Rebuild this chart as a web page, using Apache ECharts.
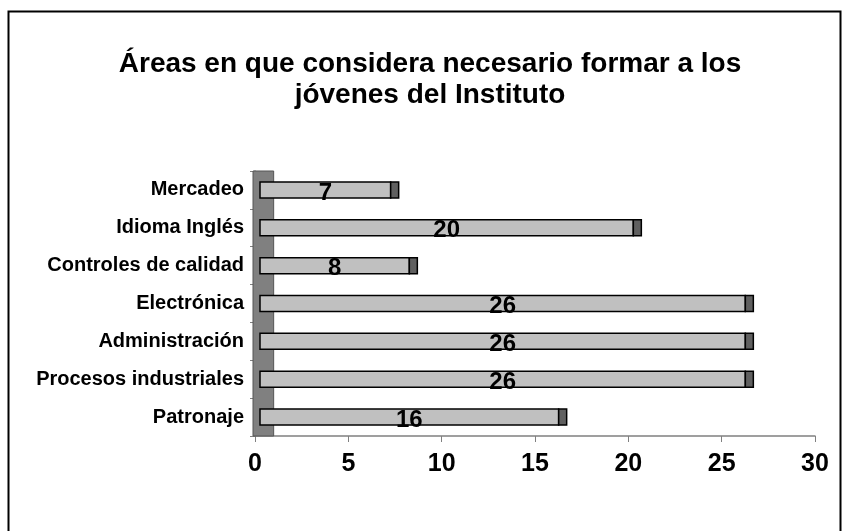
<!DOCTYPE html>
<html>
<head>
<meta charset="utf-8">
<script src="https://cdn.jsdelivr.net/npm/echarts@6/dist/echarts.min.js"></script>
<style>
  html, body { margin: 0; padding: 0; background: #fff; }
  #chart { width: 844px; height: 531px; }
</style>
</head>
<body>
<div id="chart"></div>
<script>
// categories from bottom to top, as the y axis draws them
var categories = ["Patronaje", "Procesos industriales", "Administración", "Electrónica", "Controles de calidad", "Idioma Inglés", "Mercadeo"];
var values = [16, 26, 26, 26, 8, 20, 7];
var xTicks = [0, 5, 10, 15, 20, 25, 30];

var fontFamily = "Liberation Sans, Arial, sans-serif";

// front face of each bar plus the dark depth cap at its end
function renderBar(params, api) {
  var v = api.value(0);
  var cat = api.value(1);
  var p0 = api.coord([0, cat]);
  var p1 = api.coord([v, cat]);
  var h = 16;
  var x0 = p0[0] + 5;
  var x1 = p1[0] + 5;
  var y = p0[1] - h / 2;
  return {
    type: "group",
    children: [
      {
        type: "rect",
        shape: { x: x0, y: y, width: x1 - x0, height: h },
        style: { fill: "#c0c0c0", stroke: "#000", lineWidth: 1.5 }
      },
      {
        type: "rect",
        shape: { x: x1, y: y, width: 8, height: h },
        style: { fill: "#606060", stroke: "#000", lineWidth: 1.5 }
      },
      {
        type: "text",
        x: (x0 + x1) / 2,
        y: p0[1] + 3,
        style: {
          text: String(v),
          fill: "#000",
          font: "bold 24px " + fontFamily,
          align: "center",
          verticalAlign: "middle"
        }
      }
    ]
  };
}

// grey side wall of the 3d plot area
function renderWall(params, api) {
  var cs = params.coordSys;
  var a = api.coord([0, 0]);
  var b = api.coord([api.value(0), 0]);
  return {
    type: "rect",
    shape: { x: a[0] - 2, y: cs.y, width: b[0] - a[0] + 2, height: cs.height },
    style: { fill: "#808080", stroke: "#555", lineWidth: 1 }
  };
}

var chart = echarts.init(document.getElementById("chart"));
chart.setOption({
  animation: false,
  backgroundColor: "#fff",
  graphic: [
    {
      type: "rect",
      left: 6,
      top: 9,
      shape: { width: 832, height: 540 },
      style: { fill: "none", stroke: "#000", lineWidth: 2 },
      silent: true
    }
  ],
  title: {
    text: "Áreas en que considera necesario formar a los\njóvenes del Instituto",
    left: 425,
    top: 44,
    textAlign: "center",
    textStyle: {
      fontFamily: fontFamily,
      fontWeight: "bold",
      fontSize: 28,
      lineHeight: 31,
      color: "#000"
    }
  },
  grid: {
    left: 255,
    right: 29,
    top: 171,
    bottom: 95
  },
  xAxis: {
    type: "value",
    min: xTicks[0],
    max: xTicks[xTicks.length - 1],
    interval: xTicks[1] - xTicks[0],
    axisLine: { show: true, lineStyle: { color: "#808080", width: 1.5 } },
    axisTick: { show: true, length: 6, lineStyle: { color: "#808080" } },
    splitLine: { show: false },
    axisLabel: {
      margin: 16,
      color: "#000",
      fontFamily: fontFamily,
      fontWeight: "bold",
      fontSize: 25
    }
  },
  yAxis: {
    type: "category",
    data: categories,
    axisLine: { show: true, lineStyle: { color: "#808080", width: 1.5 } },
    axisTick: { show: true, length: 5, lineStyle: { color: "#808080" } },
    axisLabel: {
      margin: 11,
      color: "#000",
      fontFamily: fontFamily,
      fontWeight: "bold",
      fontSize: 20
    }
  },
  series: [
    {
      type: "custom",
      renderItem: renderWall,
      data: [[1]],
      encode: { x: 0 },
      z: 1,
      silent: true
    },
    {
      type: "custom",
      renderItem: renderBar,
      data: values.map(function (v, i) { return [v, i]; }),
      encode: { x: 0, y: 1 },
      z: 2
    }
  ]
});
</script>
</body>
</html>
